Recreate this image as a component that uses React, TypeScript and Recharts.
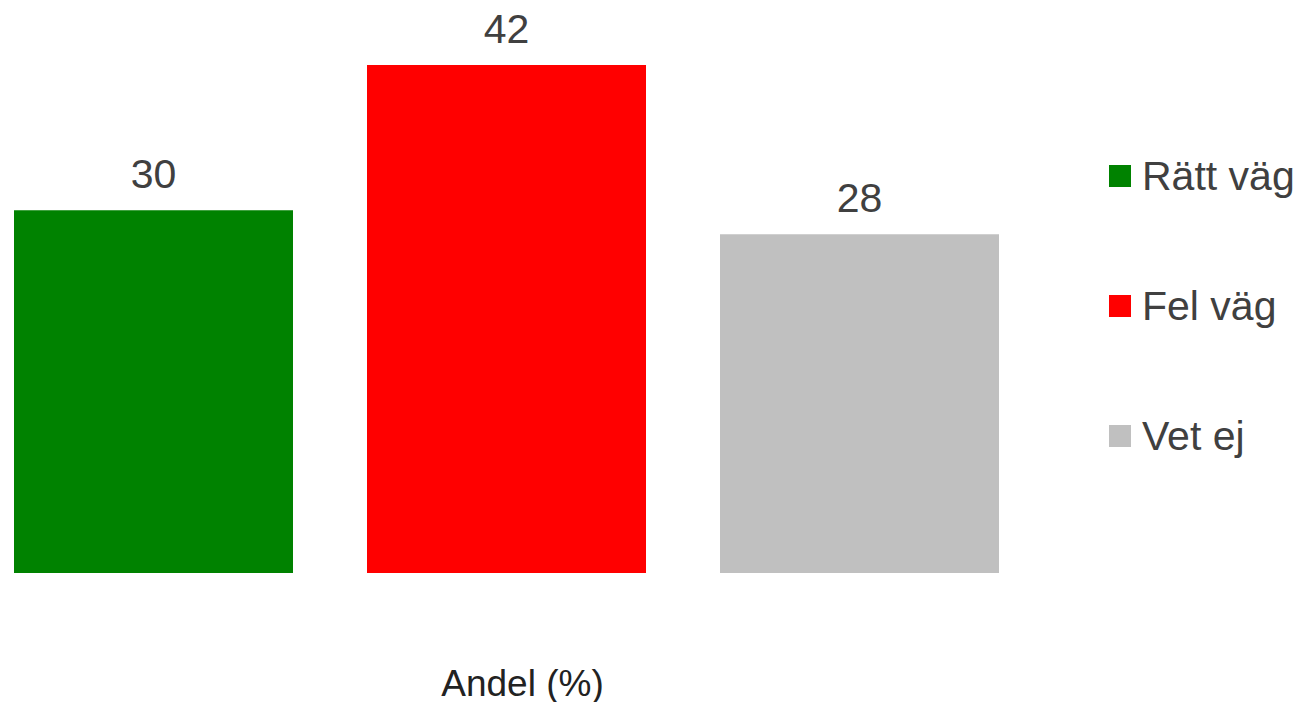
import { BarChart, Bar, XAxis, YAxis, Legend, LabelList } from "recharts";

const categories = ["Andel (%)"];
const seriesNames = ["Rätt väg", "Fel väg", "Vet ej"];
const seriesColors = ["#008200", "#FF0000", "#C0C0C0"];
const rattVag = [30];
const felVag = [42];
const vetEj = [28];

const seriesKeys = ["ratt", "fel", "vetej"];

const data = categories.map((name, i) => ({
  name,
  ratt: rattVag[i],
  fel: felVag[i],
  vetej: vetEj[i],
}));

const FONT = "'Liberation Sans', Arial, sans-serif";
const TEXT = "#404040";

const CategoryTick = (props: any) => {
  const { x, y, payload } = props;
  return (
    <text
      x={x + 16}
      y={y}
      dy={115}
      textAnchor="middle"
      fontSize={37}
      fontFamily={FONT}
      fill="#222"
    >
      {payload.value}
    </text>
  );
};

const LegendContent = () => (
  <div style={{ fontFamily: FONT }}>
    {seriesNames.map((name, i) => (
      <div
        key={name}
        style={{
          display: "flex",
          alignItems: "center",
          height: 130,
        }}
      >
        <span
          style={{
            display: "inline-block",
            width: 22,
            height: 22,
            background: seriesColors[i],
            marginRight: 11,
          }}
        />
        <span style={{ fontSize: 41, color: TEXT, whiteSpace: "nowrap" }}>{name}</span>
      </div>
    ))}
  </div>
);

export default function App() {
  return (
    <div style={{ margin: -8 }}>
      <BarChart
        width={1304}
        height={710}
        data={data}
        margin={{ top: 65, right: 96, left: 0, bottom: 0 }}
        barGap={74}
      >
        <XAxis
          dataKey="name"
          height={137}
          axisLine={false}
          tickLine={false}
          tick={<CategoryTick />}
        />
        <YAxis hide domain={[0, 42]} />
        <Legend
          layout="vertical"
          align="right"
          verticalAlign="top"
          width={195}
          content={<LegendContent />}
          wrapperStyle={{ position: "absolute", left: 1109, top: 111, width: 195 }}
        />
        {seriesKeys.map((key, i) => (
          <Bar
            key={key}
            dataKey={key}
            name={seriesNames[i]}
            fill={seriesColors[i]}
            barSize={279}
            isAnimationActive={false}
          >
            <LabelList
              dataKey={key}
              position="top"
              offset={22}
              fontSize={41}
              fontFamily={FONT}
              fill={TEXT}
            />
          </Bar>
        ))}
      </BarChart>
    </div>
  );
}
